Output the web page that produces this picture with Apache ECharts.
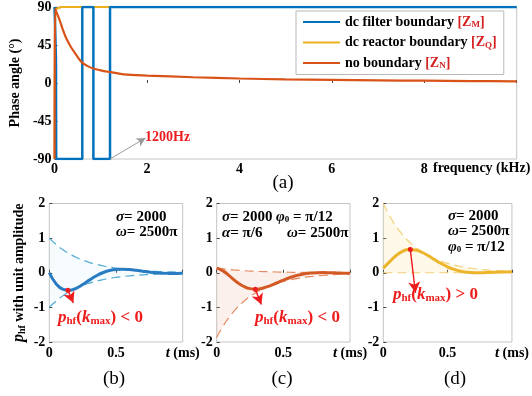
<!DOCTYPE html>
<html><head><meta charset="utf-8">
<script src="https://cdn.jsdelivr.net/npm/echarts@6/dist/echarts.min.js"></script>
<style>html,body{margin:0;padding:0;background:#fff}#c{width:532px;height:396px}</style>
</head><body><div id="c"></div>
<script>
const FF = 'Liberation Serif';
// ---------- panel (a): phase angle vs frequency ----------
const freqTickLabels = ['0', '2', '4', '6', '8'];
const phaseTickLabels = ['-90', '-45', '0', '45', '90'];
const seriesNames = ['dc filter boundary', 'dc reactor boundary', 'no boundary'];
const seriesSubs = ['M', 'Q', 'N'];

const blueFreq  = [0, 0.03, 0.035, 0.6, 0.6, 0.84, 0.84, 1.2, 1.2, 10];
const bluePhase = [90, 30, -90, -90, 90, 90, -90, -90, 90, 90];

const yellowFreq  = [0, 0.003, 0.01, 0.02, 0.04, 0.08, 0.15, 0.3, 10];
const yellowPhase = [-90, 0, 70, 84, 88, 89.5, 90, 90, 90];

const redFreq  = [0, 0.004, 0.012, 0.05, 0.107, 0.179, 0.25, 0.357, 0.464, 0.586, 0.715, 0.857, 1.07, 1.21, 1.5, 2, 3, 4, 5, 6, 7, 8, 9, 10];
const redPhase = [-90, 0, 88, 82.7, 74.9, 63.1, 53.3, 42.3, 33.7, 24.7, 20, 16.8, 14.1, 12.9, 10.2, 8.8, 6.8, 5.3, 4.3, 3.6, 3.1, 2.7, 2.3, 2.0];

// ---------- panels (b)(c)(d): p_hf vs t (ms) ----------
const tTickLabels = ['0', '0.5', 't (ms)'];
const pTickLabels = ['-2', '-1', '0', '1', '2'];
const tMs = [0, 0.05, 0.1, 0.15, 0.2, 0.25, 0.3, 0.35, 0.4, 0.45, 0.5, 0.55, 0.6, 0.65, 0.7, 0.75, 0.8, 0.85, 0.9, 0.95, 1.0];

const pB     = [0, -0.313, -0.474, -0.507, -0.449, -0.340, -0.213, -0.094, 0, 0.063, 0.096, 0.102, 0.091, 0.069, 0.043, 0.019, 0, -0.013, -0.019, -0.021, -0.018];
const envBUp = [1, 0.819, 0.670, 0.549, 0.449, 0.368, 0.301, 0.247, 0.202, 0.165, 0.135, 0.111, 0.091, 0.074, 0.061, 0.050, 0.041, 0.033, 0.027, 0.022, 0.018];
const envBLo = [-1, -0.819, -0.670, -0.549, -0.449, -0.368, -0.301, -0.247, -0.202, -0.165, -0.135, -0.111, -0.091, -0.074, -0.061, -0.050, -0.041, -0.033, -0.027, -0.022, -0.018];

const pC     = [0.134, 0.047, -0.107, -0.265, -0.389, -0.459, -0.474, -0.441, -0.377, -0.296, -0.213, -0.138, -0.079, -0.036, -0.010, 0.003, 0.005, 0.002, -0.004, -0.011, -0.016];
const envCUp = [0.134, 0.110, 0.090, 0.074, 0.060, 0.049, 0.040, 0.033, 0.027, 0.022, 0.018, 0.015, 0.012, 0.010, 0.008, 0.007, 0.005, 0.004, 0.004, 0.003, 0.002];
const envCLo = [-1.866, -1.528, -1.251, -1.024, -0.838, -0.686, -0.562, -0.460, -0.377, -0.308, -0.252, -0.207, -0.169, -0.139, -0.113, -0.093, -0.076, -0.062, -0.051, -0.042, -0.034];

const pD     = [0.134, 0.320, 0.497, 0.620, 0.674, 0.660, 0.592, 0.491, 0.377, 0.266, 0.170, 0.096, 0.045, 0.015, 0.002, 0.0004, 0.005, 0.013, 0.020, 0.025, 0.027];
const envDUp = [2, 1.637, 1.341, 1.098, 0.899, 0.736, 0.602, 0.493, 0.404, 0.331, 0.271, 0.222, 0.181, 0.149, 0.122, 0.100, 0.082, 0.067, 0.055, 0.045, 0.037];
const envDLo = [0, 0, 0, 0, 0, 0, 0, 0, 0, 0, 0, 0, 0, 0, 0, 0, 0, 0, 0, 0, 0];

// arrow annotations (data space): [start, end]
const arrowB = [[0.14, -0.51], [0.18, -0.87]];
const arrowC = [[0.29, -0.48], [0.335, -0.92]];
const arrowD = [[0.21, 0.67], [0.25, -0.58]];
const arrow1200 = [[1.2, -90], [1.97, -65]];

function zip(a, b) { return a.map((x, i) => [x, b[i]]); }

const RED = '#ee1c1c';
const tickFont = { fontFamily: FF, fontSize: 14, fontWeight: 'bold', color: '#000' };

const grids = [
  { left: 50, top: 5.5, width: 466.7, height: 153.5 },
  { left: 49.3, top: 203.5, width: 133.4, height: 138.5 },
  { left: 216.7, top: 203.5, width: 133.3, height: 138.5 },
  { left: 383.3, top: 203.5, width: 132.4, height: 138.5 }
].map(g => Object.assign(g, { show: true, borderColor: '#c4c4c4', borderWidth: 1, backgroundColor: 'transparent' }));

const xAxes = [{
  type: 'value', gridIndex: 0, min: 0, max: 10, interval: 2,
  axisLine: { show: false }, splitLine: { show: false },
  axisTick: { show: true, inside: true, length: 3, lineStyle: { color: '#444' } },
  axisLabel: Object.assign({ margin: 3, formatter: v => { const s = String(v); return freqTickLabels.includes(s) ? s : ''; } }, tickFont)
}];
const yAxes = [{
  type: 'value', gridIndex: 0, min: -90, max: 90, interval: 45,
  axisLine: { show: false }, splitLine: { show: false },
  axisTick: { show: true, inside: true, length: 3, lineStyle: { color: '#444' } },
  axisLabel: Object.assign({ margin: 3, formatter: v => { const s = String(v); return phaseTickLabels.includes(s) ? s : ''; } }, tickFont),
  name: 'Phase angle (°)', nameLocation: 'middle', nameRotate: 90, nameGap: 28,
  nameTextStyle: { fontFamily: FF, fontSize: 14, fontWeight: 'bold', color: '#000' }
}];
for (let i = 1; i <= 3; i++) {
  xAxes.push({
    type: 'value', gridIndex: i, min: 0, max: 1, interval: 0.5,
    axisLine: { show: false }, splitLine: { show: false },
    axisTick: { show: true, inside: true, length: 3, lineStyle: { color: '#444' } },
    axisLabel: Object.assign({
      margin: 4,
      formatter: v => { const idx = [0, 0.5, 1].indexOf(v); if (idx < 0) return ''; return idx === 2 ? '{i|t} (ms)' : tTickLabels[idx]; },
      rich: { i: { fontFamily: FF, fontSize: 15, fontWeight: 'bold', fontStyle: 'italic', color: '#000' } }
    }, tickFont)
  });
  const ya = {
    type: 'value', gridIndex: i, min: -2, max: 2, interval: 1,
    axisLine: { show: false }, splitLine: { show: false },
    axisTick: { show: true, inside: true, length: 3, lineStyle: { color: '#444' } },
    axisLabel: Object.assign({ margin: 4, formatter: v => { const s = String(v); return pTickLabels.includes(s) ? s : ''; } }, tickFont)
  };
  if (i === 1) {
    Object.assign(ya, {
      name: '{p|p}{s|hf} with unit amplitude', nameLocation: 'middle', nameRotate: 90, nameGap: 22,
      nameTextStyle: {
        fontFamily: FF, fontSize: 14, fontWeight: 'bold', color: '#000',
        rich: {
          p: { fontFamily: FF, fontSize: 16, fontWeight: 'bold', fontStyle: 'italic', color: '#000' },
          s: { fontFamily: FF, fontSize: 10, fontWeight: 'bold', color: '#000', padding: [6, 0, 0, 0] }
        }
      }
    });
  }
  yAxes.push(ya);
}

function arrowMark(a, color, startSym) {
  return {
    silent: true, animation: false,
    lineStyle: { color: color, width: 1.4, type: 'solid' },
    label: { show: false },
    data: [[
      { coord: a[0], symbol: startSym ? 'circle' : 'none', symbolSize: 5 },
      { coord: a[1], symbol: 'arrow', symbolSize: [9, 11] }
    ]]
  };
}

const series = [
  { name: seriesNames[1], type: 'line', xAxisIndex: 0, yAxisIndex: 0, data: zip(yellowFreq, yellowPhase), symbol: 'none', z: 2, lineStyle: { color: '#EDB120', width: 2.2 }, itemStyle: { color: '#EDB120' } },
  { name: seriesNames[0], type: 'line', xAxisIndex: 0, yAxisIndex: 0, data: zip(blueFreq, bluePhase), symbol: 'none', z: 3, lineStyle: { color: '#0072BD', width: 2.5 }, itemStyle: { color: '#0072BD' },
    markLine: (() => { const m = arrowMark(arrow1200, '#9a9a9a', false); m.lineStyle.width = 1; m.data[0][1].symbolSize = [7, 9]; return m; })() },
  { name: seriesNames[2], type: 'line', xAxisIndex: 0, yAxisIndex: 0, data: zip(redFreq, redPhase), symbol: 'none', z: 4, smooth: 0.3, lineStyle: { color: '#D95319', width: 2.2 }, itemStyle: { color: '#D95319' } }
];

const panels = [
  { up: envBUp, lo: envBLo, p: pB, c: '#2a7cc2', d: '#4eaad2', f: 'rgba(150,205,238,0.12)', a: arrowB },
  { up: envCUp, lo: envCLo, p: pC, c: '#d45a25', d: '#e58a62', f: 'rgba(238,160,130,0.22)', a: arrowC },
  { up: envDUp, lo: envDLo, p: pD, c: '#ecb42a', d: '#f1d078', f: 'rgba(246,220,140,0.28)', a: arrowD }
];
panels.forEach((pn, k) => {
  const i = k + 1;
  [pn.up, pn.lo].forEach(env => {
    series.push({ type: 'line', xAxisIndex: i, yAxisIndex: i, data: zip(tMs, env), symbol: 'none', smooth: true, z: 2,
      lineStyle: { color: pn.d, width: 1.2, type: [9, 5] },
      areaStyle: { color: pn.f, origin: 0 } });
  });
  series.push({ type: 'line', xAxisIndex: i, yAxisIndex: i, data: zip(tMs, pn.p), symbol: 'none', smooth: true, z: 4,
    lineStyle: { color: pn.c, width: 3 }, markLine: arrowMark(pn.a, RED, true) });
});

function txt(x, y, text, opt) {
  return { type: 'text', x: x, y: y, z: 100, style: Object.assign({ text: text, fontFamily: FF, fontSize: 14, fontWeight: 'bold', fill: '#000', align: 'left', verticalAlign: 'middle' }, opt || {}) };
}
const paramRich = {
  g: { fontFamily: FF, fontSize: 15, fontWeight: 'bold', fontStyle: 'italic', fill: '#000' },
  n: { fontFamily: FF, fontSize: 15, fontWeight: 'bold', fill: '#000' },
  s: { fontFamily: FF, fontSize: 9, fontWeight: 'bold', fill: '#000', padding: [6, 0, 0, 0] }
};
const phRich = {
  p: { fontFamily: FF, fontSize: 17, fontWeight: 'bold', fontStyle: 'italic', fill: RED },
  s: { fontFamily: FF, fontSize: 11, fontWeight: 'bold', fill: RED, padding: [7, 0, 0, 0] },
  n: { fontFamily: FF, fontSize: 17, fontWeight: 'bold', fill: RED }
};
const phText = sign => '{p|p}{s|hf}{n|(}{p|k}{s|max}{n|) ' + sign + ' 0}';

const graphic = [
  txt(433, 168, 'frequency (kHz)'),
  txt(283, 183, '(a)', { fontWeight: 'normal', fontSize: 19, align: 'center' }),
  txt(114, 379, '(b)', { fontWeight: 'normal', fontSize: 19, align: 'center' }),
  txt(282, 379, '(c)', { fontWeight: 'normal', fontSize: 19, align: 'center' }),
  txt(455, 379, '(d)', { fontWeight: 'normal', fontSize: 19, align: 'center' }),
  txt(145, 137, '1200Hz', { fill: RED, fontSize: 14 }),
  txt(116, 217, '{g|σ}{n|= 2000}', { rich: paramRich }),
  txt(116, 232, '{g|ω}{n|= 2500π}', { rich: paramRich }),
  txt(222, 217, '{g|σ}{n|= 2000}', { rich: paramRich }),
  txt(276, 217, '{g|φ}{s|0}{n| = π/12}', { rich: paramRich }),
  txt(222, 233, '{g|α}{n|= π/6}', { rich: paramRich }),
  txt(287, 233, '{g|ω}{n|= 2500π}', { rich: paramRich }),
  txt(448, 216, '{g|σ}{n|= 2000}', { rich: paramRich }),
  txt(448, 231, '{g|ω}{n|= 2500π}', { rich: paramRich }),
  txt(448, 247, '{g|φ}{s|0}{n| = π/12}', { rich: paramRich }),
  txt(58, 318, phText('<'), { rich: phRich }),
  txt(255, 318, phText('<'), { rich: phRich }),
  txt(393, 295, phText('>'), { rich: phRich })
];

const chart = echarts.init(document.getElementById('c'), null, { renderer: 'canvas' });
chart.setOption({
  animation: false,
  backgroundColor: '#fff',
  grid: grids,
  xAxis: xAxes,
  yAxis: yAxes,
  legend: {
    data: seriesNames, orient: 'vertical', left: 296, top: 11,
    padding: [4, 7, 4, 7], itemWidth: 37, itemHeight: 12, itemGap: 6,
    backgroundColor: '#fff', borderColor: '#b8b8b8', borderWidth: 1, borderRadius: 0,
    icon: 'path://M0,5 L37,5 L37,7 L0,7 Z',
    formatter: name => { const k = seriesNames.indexOf(name); return '{n|' + name + '} {r|[Z}{s|' + seriesSubs[k] + '}{r|]}'; },
    textStyle: {
      fontFamily: FF, fontSize: 14, fontWeight: 'bold', color: '#000',
      rich: {
        n: { fontFamily: FF, fontSize: 14, fontWeight: 'bold', color: '#000' },
        r: { fontFamily: FF, fontSize: 14, fontWeight: 'bold', color: '#d42020' },
        s: { fontFamily: FF, fontSize: 9, fontWeight: 'bold', color: '#d42020', padding: [6, 0, 0, 0] }
      }
    }
  },
  graphic: graphic,
  series: series
});
</script></body></html>
